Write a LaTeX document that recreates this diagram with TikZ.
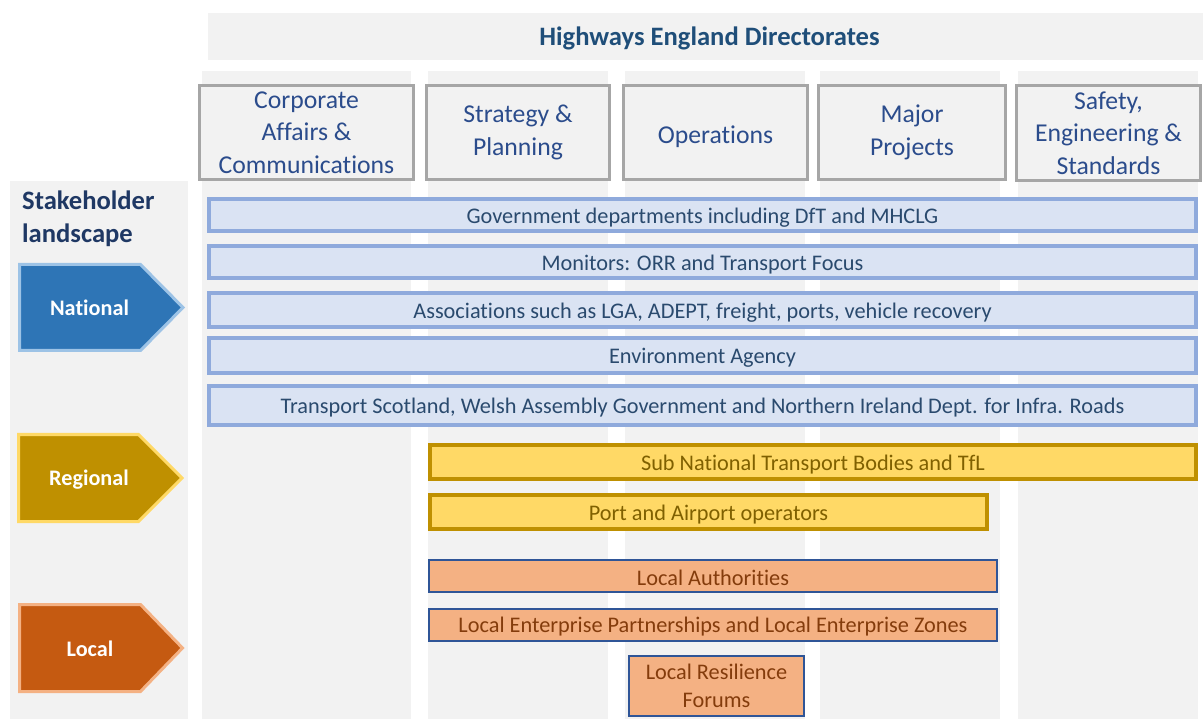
\documentclass[tikz,border=0pt]{standalone}
\usepackage{fontspec}
\setmainfont[Ligatures={NoCommon}]{Carlito}
\definecolor{bgray}{HTML}{F2F2F2}
\definecolor{hdrline}{HTML}{A6A6A6}
\definecolor{hdrtext}{HTML}{2B4C8C}
\definecolor{titletext}{HTML}{1F4E79}
\definecolor{sktext}{HTML}{1F3864}
\definecolor{bluefill}{HTML}{DAE3F3}
\definecolor{blueline}{HTML}{8FAADC}
\definecolor{bluetext}{HTML}{2A4A6E}
\definecolor{yelfill}{HTML}{FFD966}
\definecolor{yelline}{HTML}{BF9000}
\definecolor{yeltext}{HTML}{7F6000}
\definecolor{orfill}{HTML}{F4B183}
\definecolor{orline}{HTML}{2F5597}
\definecolor{ortext}{HTML}{843C0C}
\definecolor{natfill}{HTML}{2E75B6}
\definecolor{natline}{HTML}{9DC3E6}
\definecolor{regfill}{HTML}{BF9000}
\definecolor{regline}{HTML}{FFD966}
\definecolor{locfill}{HTML}{C55A11}
\definecolor{locline}{HTML}{F4B183}
\newcommand\mydn{\rule{0pt}{0.9em}}
\newcommand\mydnh{\rule{0pt}{1.0em}}
\newcommand\mydnb{\rule{0pt}{0.82em}}
\begin{document}
\begin{tikzpicture}[x=1pt,y=-1pt,
  hdrbox/.style={draw=hdrline,line width=3pt,fill=bgray,text=hdrtext,align=center,inner sep=0pt,outer sep=0pt,
    font=\fontsize{25.7}{32.3}\selectfont,execute at begin node=\mydnh},
  bluebar/.style={draw=blueline,line width=4pt,fill=bluefill,text=bluetext,inner sep=0pt,outer sep=0pt,
    font=\fontsize{22.3}{27}\selectfont,execute at begin node=\mydn},
  yelbar/.style={draw=yelline,line width=4pt,fill=yelfill,text=yeltext,inner sep=0pt,outer sep=0pt,
    font=\fontsize{22.3}{27}\selectfont,execute at begin node=\mydn},
  orbar/.style={draw=orline,line width=2pt,fill=orfill,text=ortext,align=center,inner sep=0pt,outer sep=0pt,
    font=\fontsize{22.3}{27.5}\selectfont,execute at begin node=\mydnb},
  lvltext/.style={text=white,font=\bfseries\fontsize{22.2}{27}\selectfont,inner sep=0pt},
]
\useasboundingbox (0,0) rectangle (1203,719);
% background panels
\fill[bgray] (208,13) rectangle (1203,60);
\fill[bgray] (10,181) rectangle (188,719);
\fill[bgray] (202,71) rectangle (411,719);
\fill[bgray] (428,71) rectangle (608,719);
\fill[bgray] (625,71) rectangle (805,719);
\fill[bgray] (820,71) rectangle (1000,719);
\fill[bgray] (1018,71) rectangle (1198,719);
% title
\node[text=titletext,font=\bfseries\fontsize{26.6}{32}\selectfont,inner sep=0pt] (title) at (709.5,38.5) {Highways England Directorates};
% stakeholder
\node[text=sktext,font=\bfseries\fontsize{26.6}{33}\selectfont,align=left,anchor=north west,inner sep=0pt] (sk) at (22,191) {Stakeholder\\landscape};
% headers
\node[hdrbox,minimum width=214pt,minimum height=94pt] (h1) at (306.5,132.5) {Corporate\\Affairs \&\\Communications};
\node[hdrbox,minimum width=183pt,minimum height=94pt] (h2) at (518,132.5) {Strategy \&\\Planning};
\node[hdrbox,minimum width=184pt,minimum height=94pt] (h3) at (715.5,132.5) {Operations};
\node[hdrbox,minimum width=187pt,minimum height=94pt] (h4) at (912,132.5) {Major\\Projects};
\node[hdrbox,minimum width=184pt,minimum height=95pt] (h5) at (1108.5,133) {Safety,\\Engineering \&\\Standards};
% blue bars
\node[bluebar,minimum width=987pt,minimum height=32pt] (b1) at (702.5,215) {Government departments including DfT and MHCLG};
\node[bluebar,minimum width=987pt,minimum height=32pt] (b2) at (702.5,262) {Monitors: ORR and Transport Focus};
\node[bluebar,minimum width=987pt,minimum height=34pt] (b3) at (702.5,310) {Associations such as LGA, ADEPT, freight, ports, vehicle recovery};
\node[bluebar,minimum width=987pt,minimum height=35pt] (b4) at (702.5,355.5) {Environment Agency};
\node[bluebar,minimum width=987pt,minimum height=39pt] (b5) at (702.5,405.5) {Transport Scotland, Welsh Assembly Government and Northern Ireland Dept. for Infra. Roads};
% yellow bars
\node[yelbar,minimum width=766pt,minimum height=34pt] (y1) at (813,462) {Sub National Transport Bodies and TfL};
\node[yelbar,minimum width=557pt,minimum height=34pt] (y2) at (708.5,512) {Port and Airport operators};
% orange bars
\node[orbar,minimum width=568pt,minimum height=32pt] (o1) at (713,576) {Local Authorities};
\node[orbar,minimum width=568pt,minimum height=32pt] (o2) at (713,625) {Local Enterprise Partnerships and Local Enterprise Zones};
\node[orbar,minimum width=175pt,minimum height=60pt] (o3) at (716.5,686) {Local Resilience\\Forums};
% level arrows
\filldraw[fill=natfill,draw=natline,line width=3pt,line join=miter]
  (19.5,264.5) -- (140.5,264.5) -- (183,307.5) -- (140.5,350.5) -- (19.5,350.5) -- cycle;
\node[lvltext] (nat) at (89.5,308) {National};
\filldraw[fill=regfill,draw=regline,line width=3pt,line join=miter]
  (18.5,434.5) -- (138.5,434.5) -- (182,478) -- (138.5,521.5) -- (18.5,521.5) -- cycle;
\node[lvltext] (reg) at (89,479.5) {Regional};
\filldraw[fill=locfill,draw=locline,line width=3pt,line join=miter]
  (19.5,604.5) -- (140.5,604.5) -- (182.5,648) -- (140.5,691.5) -- (19.5,691.5) -- cycle;
\node[lvltext] (loc) at (90,649) {Local};
\end{tikzpicture}
\end{document}
